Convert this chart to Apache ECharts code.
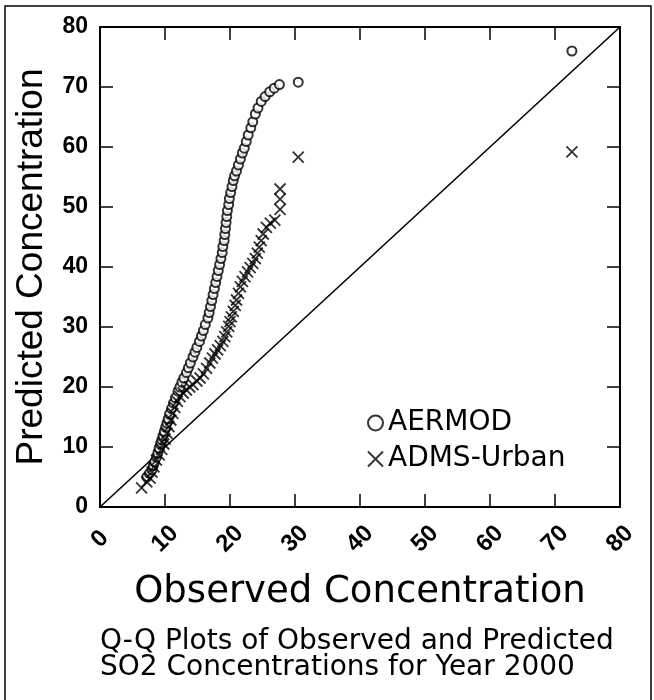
<!DOCTYPE html>
<html>
<head>
<meta charset="utf-8">
<script src="https://cdn.jsdelivr.net/npm/echarts@6/dist/echarts.min.js"></script>
<style>
	html, body { margin: 0; padding: 0; background: #fff; }
	#main { width: 654px; height: 700px; }
</style>
</head>
<body>
<div id="main"></div>
<script>
// tick labels
var xTicks = [0, 10, 20, 30, 40, 50, 60, 70, 80];
var yTicks = [0, 10, 20, 30, 40, 50, 60, 70, 80];

// AERMOD quantiles [observed, predicted]
var aermod = [
	[7.2,5.0],[7.6,5.6],[8.0,6.2],[8.2,6.9],[8.4,7.5],[8.7,8.3],[8.9,9.0],[9.1,9.8],[9.3,10.5],[9.5,11.2],
	[9.7,11.9],[9.9,12.6],[10.1,13.3],[10.3,14.0],[10.5,14.7],[10.7,15.5],[11.0,16.4],[11.3,17.3],[11.6,18.2],[12.0,19.3],
	[12.3,20.0],[12.6,20.8],[12.9,21.5],[13.3,22.4],[13.6,23.2],[13.9,24.0],[14.3,25.0],[14.6,25.8],[14.9,26.6],[15.3,27.6],
	[15.6,28.5],[15.9,29.4],[16.2,30.4],[16.6,31.5],[16.8,32.4],[17.0,33.4],[17.2,34.4],[17.4,35.4],[17.6,36.4],[17.8,37.4],
	[18.0,38.4],[18.2,39.4],[18.4,40.4],[18.6,41.4],[18.8,42.4],[18.9,43.4],[19.1,44.4],[19.2,45.4],[19.3,46.4],[19.4,47.4],
	[19.5,48.4],[19.6,49.4],[19.8,50.4],[19.9,51.4],[20.1,52.4],[20.3,53.4],[20.5,54.4],[20.7,55.2],[21.0,56.0],[21.3,57.0],
	[21.6,58.0],[21.9,59.0],[22.2,59.8],[22.5,60.9],[22.8,62.0],[23.2,63.2],[23.5,64.2],[23.9,65.5],[24.3,66.5],[24.8,67.6],
	[25.4,68.4],[26.1,69.2],[26.8,69.8],[27.6,70.4],[30.5,70.8],[72.6,76.0]
];

// ADMS-Urban quantiles [observed, predicted]
var adms = [
	[6.4,3.2],[7.2,4.2],[7.7,4.8],[8.0,5.8],[8.3,6.7],[8.7,7.8],[9.1,8.7],[9.5,9.6],[9.8,10.5],[10.0,11.3],
	[10.3,12.3],[10.6,13.4],[10.9,14.5],[11.2,15.6],[11.5,16.6],[11.9,17.6],[12.3,18.4],[12.8,19.0],[13.3,19.5],[13.8,20.0],
	[14.3,20.4],[14.9,21.0],[15.4,21.5],[15.9,22.2],[16.4,23.1],[16.9,24.0],[17.3,24.8],[17.7,25.5],[18.1,26.2],[18.5,26.9],
	[18.9,27.6],[19.2,28.4],[19.5,29.2],[19.8,30.1],[20.0,30.9],[20.2,31.7],[20.5,32.6],[20.8,33.6],[21.0,34.5],[21.3,35.6],
	[21.6,36.7],[21.9,37.6],[22.3,38.4],[22.7,39.2],[23.1,39.9],[23.5,40.6],[23.9,41.4],[24.2,42.3],[24.5,43.3],[24.8,44.4],
	[25.1,45.5],[25.6,46.6],[26.2,47.3],[26.9,47.8],[27.7,49.6],[27.7,51.3],[27.7,53.0],[30.5,58.3],[72.6,59.2]
];

// 1:1 line
var oneToOne = [[0, 0], [80, 80]];

var crossPath = 'path://M0,0L10,10M10,0L0,10';
var tickLen = 13;

var myChart = echarts.init(document.getElementById('main'));

// axis that draws only the frame line (and labels if asked)
function lineAxis(pos, isX, showLabel) {
	var ax = {
		type: 'value',
		position: pos,
		min: 0,
		max: 80,
		interval: 10,
		axisLine: { show: true, onZero: false, lineStyle: { color: '#000', width: 2 } },
		axisTick: { show: false },
		splitLine: { show: false },
		axisLabel: { show: false }
	};
	if (showLabel) {
		ax.axisLabel = {
			show: true,
			color: '#000',
			fontWeight: 'bold',
			fontSize: isX ? 24 : 23,
			fontFamily: 'Liberation Sans',
			formatter: function (v) {
				var list = isX ? xTicks : yTicks;
				return list.indexOf(v) >= 0 ? String(v) : '';
			}
		};
		if (isX) {
			ax.axisLabel.rotate = 45;
			ax.axisLabel.align = 'center';
			ax.axisLabel.verticalAlign = 'middle';
			ax.axisLabel.margin = 32;
		} else {
			ax.axisLabel.margin = 12;
		}
	}
	return ax;
}

// axis shifted into the plot so its outward ticks end on the frame
function tickAxis(pos) {
	return {
		type: 'value',
		position: pos,
		offset: -tickLen,
		min: 0,
		max: 80,
		interval: 10,
		axisLine: { show: false, onZero: false },
		axisTick: { show: true, length: tickLen, lineStyle: { color: '#000', width: 1.5 } },
		splitLine: { show: false },
		axisLabel: { show: false }
	};
}

var xMain = lineAxis('bottom', true, true);
xMain.name = 'Observed Concentration';
xMain.nameLocation = 'middle';
xMain.nameGap = 67;
xMain.nameTextStyle = { color: '#000', fontSize: 37, fontFamily: 'DejaVu Sans' };

var yMain = lineAxis('left', false, true);
yMain.name = 'Predicted Concentration';
yMain.nameLocation = 'middle';
yMain.nameGap = 50;
yMain.nameTextStyle = { color: '#000', fontSize: 37, fontFamily: 'Liberation Sans' };

var option = {
	animation: false,
	backgroundColor: '#fff',
	textStyle: { fontFamily: 'Liberation Sans' },
	title: {
		text: 'Q-Q Plots of Observed and Predicted\nSO2 Concentrations for Year 2000',
		left: 100,
		top: 629,
		padding: 0,
		textStyle: { color: '#000', fontSize: 28, fontWeight: 'normal', fontFamily: 'DejaVu Sans', lineHeight: 26 }
	},
	graphic: [{
		type: 'rect',
		shape: { x: 5, y: 6, width: 646, height: 720 },
		style: { fill: 'none', stroke: '#000', lineWidth: 1.5 }
	}],
	legend: {
		orient: 'vertical',
		left: 362,
		top: 404,
		itemGap: 8,
		itemWidth: 15,
		itemHeight: 15,
		textStyle: { color: '#000', fontSize: 28, fontFamily: 'DejaVu Sans' },
		data: [
			{ name: 'AERMOD', icon: 'emptyCircle' },
			{ name: 'ADMS-Urban', icon: crossPath }
		]
	},
	grid: { left: 100, top: 27, width: 520, height: 480, containLabel: false },
	xAxis: [xMain, lineAxis('top', true, false), tickAxis('bottom'), tickAxis('top')],
	yAxis: [yMain, lineAxis('right', false, false), tickAxis('left'), tickAxis('right')],
	series: [{
		name: 'AERMOD',
		type: 'scatter',
		symbol: 'emptyCircle',
		symbolSize: 9,
		itemStyle: { color: '#000', borderColor: '#000', borderWidth: 1.8 },
		data: aermod,
		z: 3
	}, {
		name: 'ADMS-Urban',
		type: 'scatter',
		symbol: crossPath,
		symbolSize: 11,
		itemStyle: { color: 'rgba(0,0,0,0)', borderColor: '#000', borderWidth: 1.8 },
		data: adms,
		z: 4
	}, {
		name: '1:1',
		type: 'line',
		xAxisIndex: 1,
		yAxisIndex: 1,
		data: oneToOne,
		symbol: 'none',
		lineStyle: { color: '#000', width: 1.6 },
		z: 2
	}, {
		// keep the tick-only axes in use
		type: 'scatter', xAxisIndex: 2, yAxisIndex: 2, data: [], silent: true
	}, {
		type: 'scatter', xAxisIndex: 3, yAxisIndex: 3, data: [], silent: true
	}]
};
myChart.setOption(option);
</script>
</body>
</html>
